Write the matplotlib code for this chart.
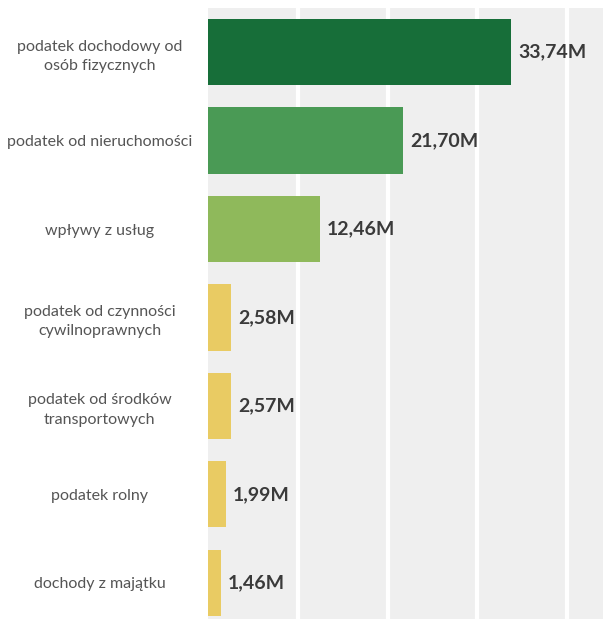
import matplotlib.pyplot as plt
from matplotlib.transforms import offset_copy

categories = ['podatek dochodowy od\nosób fizycznych',
              'podatek od nieruchomości',
              'wpływy z usług',
              'podatek od czynności\ncywilnoprawnych',
              'podatek od środków\ntransportowych',
              'podatek rolny',
              'dochody z majątku']
values = [33.74, 21.70, 12.46, 2.58, 2.57, 1.99, 1.46]
value_labels = ['33,74M', '21,70M', '12,46M', '2,58M', '2,57M', '1,99M', '1,46M']
colors = ['#176e39', '#4a9a55', '#8fb95b', '#e9cb63', '#e9cb63', '#e9cb63', '#e9cb63']

plt.rcParams['font.family'] = ['Lato', 'DejaVu Sans']

fig = plt.figure(figsize=(6.03, 6.19), dpi=100)
ax = fig.add_axes([208 / 603, 0, 395 / 603, 611 / 619])
ax.set_facecolor('#efefef')

ypos = list(range(len(values)))
ax.barh(ypos, values, height=0.75, color=colors, zorder=2)

for y, v, lab in zip(ypos, values, value_labels):
    ax.text(v, y, lab, transform=offset_copy(ax.transData, fig=fig, x=7, y=0, units='dots'),
            ha='left', va='center', fontsize=14, fontweight='bold', color='#3a3a3a', zorder=3)

ax.set_xlim(0, 44)
ax.set_ylim(6.41, -0.5)
ax.set_xticks([10, 20, 30, 40])
ax.xaxis.grid(True, color='white', linewidth=3, zorder=1)
ax.set_axisbelow(True)
ax.tick_params(axis='x', length=0, labelbottom=False)

ax.set_yticks(ypos)
ax.set_yticklabels(categories, ha='center', fontsize=11.5, color='#555555', linespacing=1.5)
ax.tick_params(axis='y', length=0, pad=78)

for s in ax.spines.values():
    s.set_visible(False)

fig.savefig('out.png', dpi=100, facecolor='white')
